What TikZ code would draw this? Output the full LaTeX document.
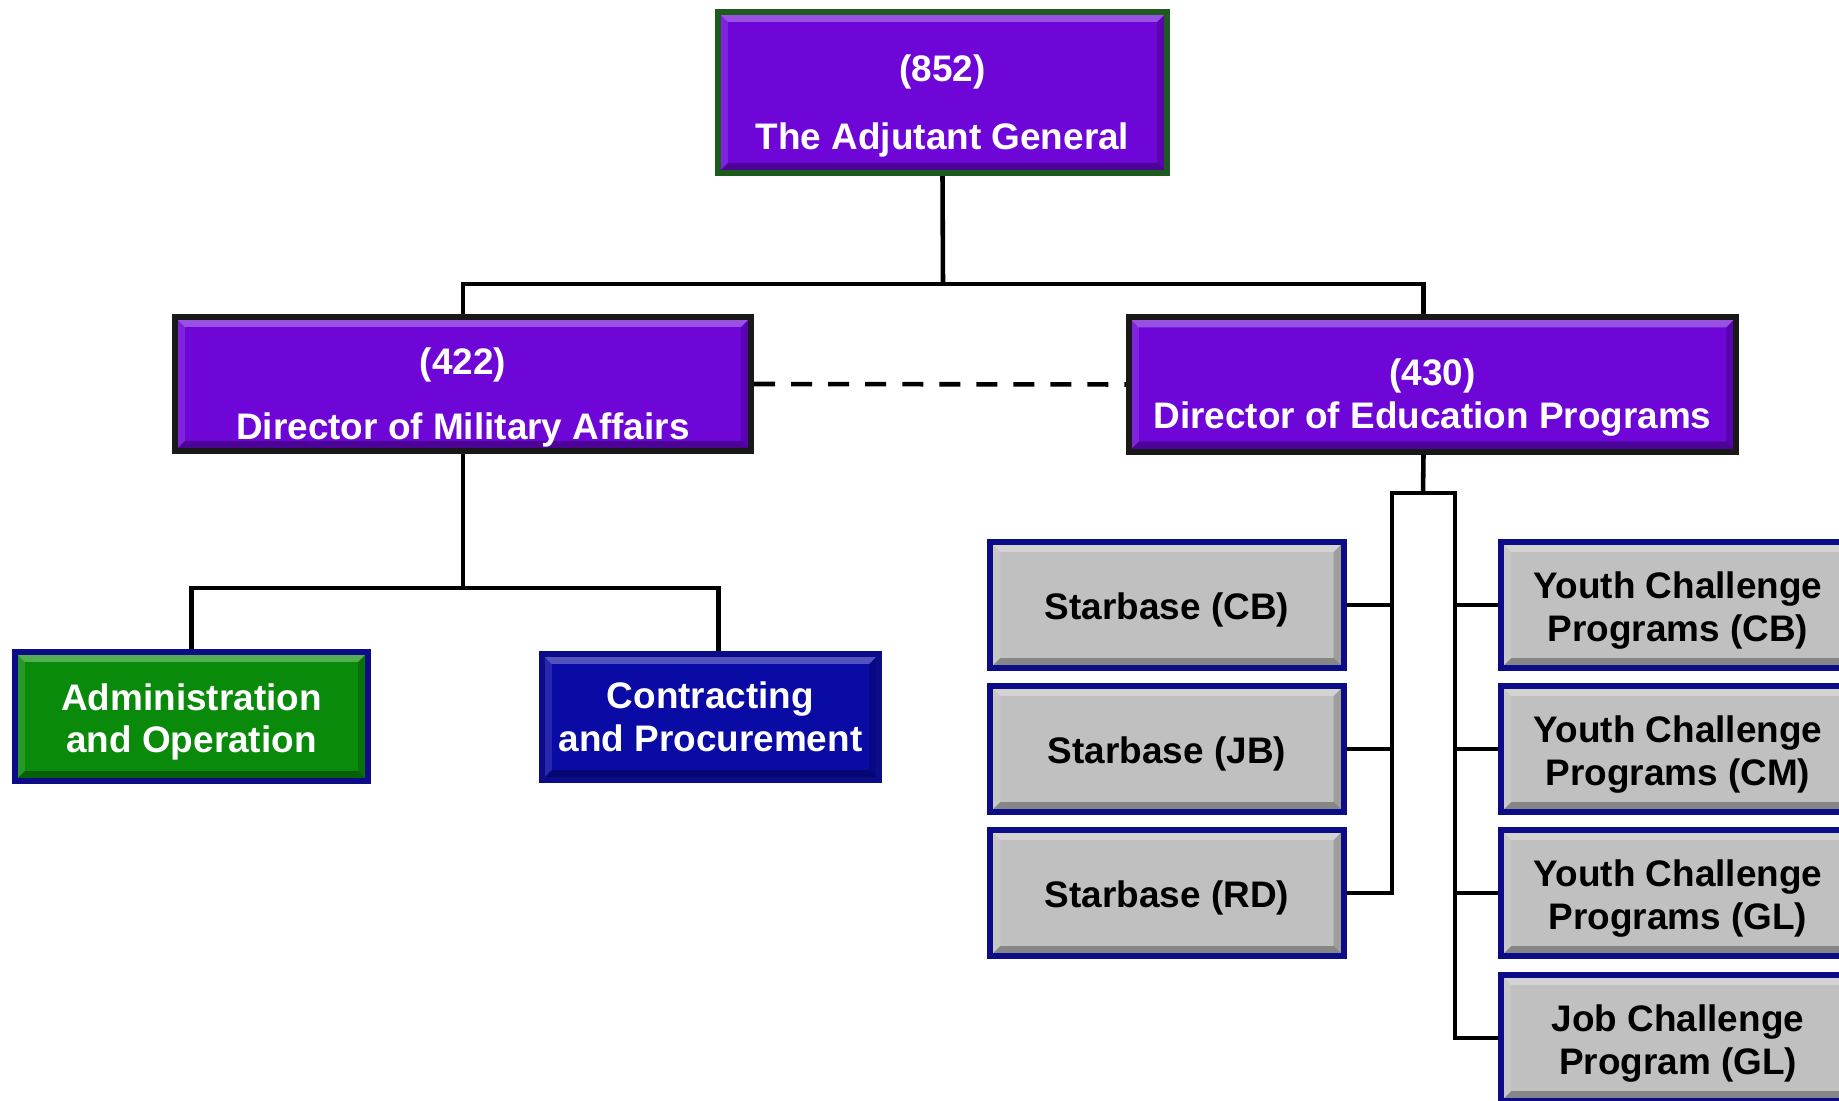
\documentclass[tikz,border=0pt]{standalone}
\usepackage{fontspec}
\setmainfont{Liberation Sans}
\usetikzlibrary{calc}
\definecolor{tagpurple}{HTML}{6E06D8}
\definecolor{tagedge}{HTML}{1D5A1D}
\definecolor{navyedge}{HTML}{0C0C88}
\definecolor{admingreen}{HTML}{0A8A0A}
\definecolor{contractblue}{HTML}{0A0AA4}
\definecolor{boxgray}{HTML}{C0C0C0}
\newcommand{\drop}[1][10.7pt]{\rule{0pt}{#1}}
\tikzset{
bevel/.style={path picture={
\fill[white,opacity=.3] (path picture bounding box.north west) -- (path picture bounding box.north east)
  -- ([shift={(-0.1cm,-0.1cm)}]path picture bounding box.north east) -- ([shift={(0.1cm,-0.1cm)}]path picture bounding box.north west) -- cycle;
\fill[white,opacity=.12] (path picture bounding box.north west) -- ([shift={(0.1cm,-0.1cm)}]path picture bounding box.north west)
  -- ([shift={(0.1cm,0.1cm)}]path picture bounding box.south west) -- (path picture bounding box.south west) -- cycle;
\fill[black,opacity=.18] (path picture bounding box.north east) -- ([shift={(-0.1cm,-0.1cm)}]path picture bounding box.north east)
  -- ([shift={(-0.1cm,0.1cm)}]path picture bounding box.south east) -- (path picture bounding box.south east) -- cycle;
\fill[black,opacity=.3] (path picture bounding box.south west) -- (path picture bounding box.south east)
  -- ([shift={(-0.1cm,0.1cm)}]path picture bounding box.south east) -- ([shift={(0.1cm,0.1cm)}]path picture bounding box.south west) -- cycle;
}},
orgbox/.style={draw, line width=1.7pt, bevel, align=center, inner sep=0pt,
  font=\bfseries\fontsize{10.5}{12.2}\selectfont},
tagbox/.style={orgbox, draw=tagedge, fill=tagpurple, text=white, minimum width=4.49cm, minimum height=1.61cm},
dirbox/.style={orgbox, draw=black!90, fill=tagpurple, text=white, minimum height=1.34cm},
adminbox/.style={orgbox, draw=navyedge, fill=admingreen, text=white, minimum width=3.53cm, minimum height=1.29cm},
contractbox/.style={orgbox, draw=navyedge, fill=contractblue, text=white, minimum width=3.37cm, minimum height=1.26cm},
unitbox/.style={orgbox, draw=navyedge, fill=boxgray, text=black, minimum width=3.53cm, minimum height=1.26cm},
link/.style={line width=1.3pt, black},
}
\begin{document}
\begin{tikzpicture}[x=0.01cm, y=-0.01cm]
\clip (0,0) rectangle (1839,1101);

% top levels
\node[tagbox] (tag) at (942.5,92.5) {\drop[15.3pt](852)\\[7pt]The Adjutant General};
\node[dirbox, minimum width=5.76cm] (dma) at (463,384) {\drop[15.3pt](422)\\[6.5pt]Director of Military Affairs};
\node[dirbox, minimum width=6.07cm] (dep) at (1432.5,384.5) {\drop[15pt](430)\\Director of Education Programs};

% military affairs
\node[adminbox] (admin) at (191.5,716.5) {\drop Administration\\and Operation};
\node[contractbox] (contract) at (710.5,717) {Contracting\\and Procurement};

% education programs
\foreach \n/\y/\t in {sbcb/605/Starbase (CB), sbjb/749/Starbase (JB), sbrd/893/Starbase (RD)}
  \node[unitbox] (\n) at (1167,\y) {\drop\t};
\foreach \n/\y/\t in {ycb/605/Youth Challenge\\Programs (CB), ycm/749/Youth Challenge\\Programs (CM),
  ygl/893/Youth Challenge\\Programs (GL), jgl/1038/Job Challenge\\Program (GL)}
  \node[unitbox] (\n) at (1678,\y) {\drop\t};

% connectors
\coordinate (tjoin) at (943,284);
\coordinate (mjoin) at (463,588);
\coordinate (ejoin) at (1423,493);
\coordinate (lbar) at (1392,493);
\coordinate (rbar) at (1455,493);

\draw[link] (tag.south) -- (tjoin);
\draw[link] (dma.north) |- (tjoin) -| ([xshift=-0.09cm]dep.north);
\draw[link, dash pattern=on 0.21cm off 0.16cm] (dma.east) -- (dep.west);
\draw[link] (dma.south) -- (mjoin);
\draw[link] (admin.north) |- (mjoin) -| ([xshift=0.08cm]contract.north);
\draw[link] ([xshift=-0.09cm]dep.south) -- (ejoin);
\draw[link] (sbrd.east) -| (lbar) -- (rbar) |- (jgl.west);
\foreach \n in {sbcb,sbjb} \draw[link] (\n.east) -- (\n.east -| lbar);
\foreach \n in {ycb,ycm,ygl} \draw[link] (\n.west) -- (\n.west -| rbar);
\end{tikzpicture}
\end{document}
